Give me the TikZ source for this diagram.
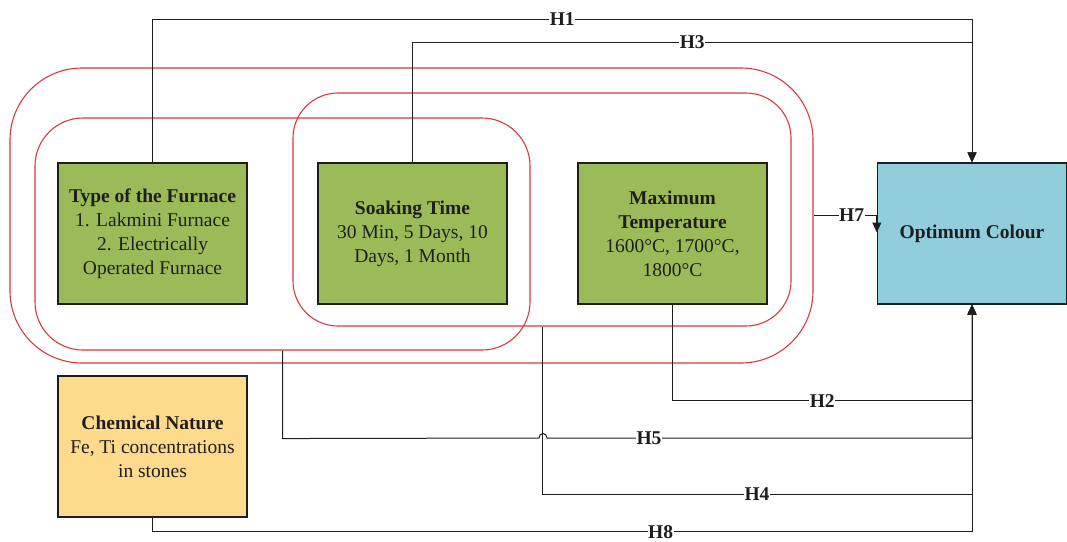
\documentclass[tikz,border=0pt]{standalone}
\usepackage{fontspec}
\setmainfont{Liberation Serif}
\usepackage{xcolor}
\usetikzlibrary{arrows.meta, positioning}

\definecolor{boxgreen}{RGB}{155,187,89}
\definecolor{boxyellow}{RGB}{253,218,140}
\definecolor{boxblue}{RGB}{146,205,220}
\definecolor{ringred}{RGB}{214,58,62}
\definecolor{inkdark}{RGB}{30,30,30}

\begin{document}
\begin{tikzpicture}[
    x=1pt, y=-1pt,
    factor/.style={rectangle, draw=inkdark, line width=1.3pt, minimum width=189pt, minimum height=141pt, inner sep=0pt, align=center, text=inkdark, font=\fontsize{19.5}{24}\selectfont},
    ring/.style={rectangle, draw=ringred, line width=1.1pt, inner sep=0pt},
    link/.style={draw=inkdark, line width=1pt},
    arr/.style={link, -{Triangle[width=9pt,length=10pt]}},
    hyp/.style={fill=white, inner sep=0.5pt, text=inkdark, font=\fontsize{19.5}{24}\selectfont\bfseries}
]
\useasboundingbox (0,0) rectangle (1067,541);

% groups of factors
\node[ring, minimum width=803pt, minimum height=295pt, rounded corners=72pt] (ringouter) at (411.5,215.5) {};
\node[ring, minimum width=495pt, minimum height=232pt, rounded corners=48pt] (ringleft) at (282.5,234) {};
\node[ring, minimum width=498pt, minimum height=233pt, rounded corners=45pt] (ringright) at (542,209.5) {};

% factors
\node[factor, fill=boxgreen] (furnace) at (152.5,233.5) {
    \textbf{Type of the Furnace} \\
    1. Lakmini Furnace \\
    2. Electrically \\
    Operated Furnace
};
\node[factor, fill=boxgreen] (soaking) at (412.5,233.5) {
    \textbf{Soaking Time} \\
    30 Min, 5 Days, 10 \\
    Days, 1 Month
};
\node[factor, fill=boxgreen] (temp) at (672.5,233.5) {
    \textbf{Maximum} \\
    \textbf{Temperature} \\
    1600°C, 1700°C, \\
    1800°C
};
\node[factor, fill=boxyellow] (chemical) at (152.5,446.5) {
    \textbf{Chemical Nature} \\
    Fe, Ti concentrations \\
    in stones
};
\node[factor, fill=boxblue] (optimum) at (972,233.5) {\textbf{Optimum Colour}};

% hypotheses
\draw[arr] (furnace.north) -- ++(0,-143) -| node[hyp, pos=0.25] {H1} (optimum.north);
\draw[arr] (soaking.north) -- ++(0,-120) -| node[hyp, pos=0.25] {H3} (optimum.north);
\draw[arr] (temp.south) -- ++(0,96) -| node[hyp, pos=0.25] {H2} (optimum.south);
\draw[arr] (ringleft.south) -- ++(0,88) -- (539,438) .. controls (539,432) and (547,432) .. (547,438)
    -| node[hyp, pos=0.12] {H5} (optimum.south);
\draw[arr] (ringright.south) -- ++(0,168) -| node[hyp, pos=0.25] {H4} (optimum.south);
\draw[arr] (chemical.south) -- ++(0,14) -| node[hyp, pos=0.31] {H8} (optimum.south);
\draw[arr] (ringouter.east) -- node[hyp, pos=0.6] {H7} (optimum.west |- ringouter.east) -- ++(0,17);

\end{tikzpicture}
\end{document}
